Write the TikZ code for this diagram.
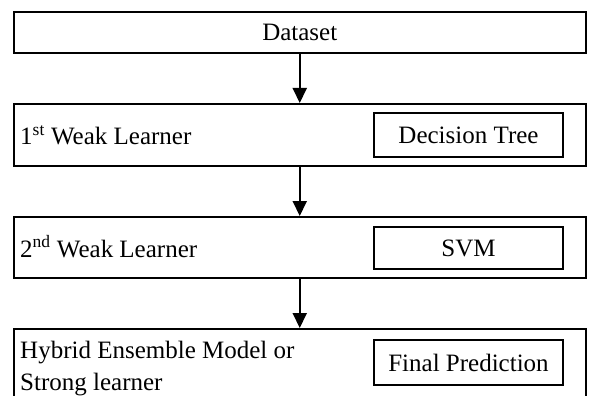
\documentclass[tikz,border=0pt]{standalone}
\usepackage{fontspec}
\setmainfont{Liberation Serif}
\usetikzlibrary{arrows.meta}

\begin{document}
\begin{tikzpicture}[x=1pt,y=1pt,
  font=\fontsize{25}{32}\selectfont,
  outerbox/.style={draw,line width=2pt,minimum width=572pt,inner sep=0pt},
  innerbox/.style={draw,line width=2pt,minimum width=189pt,inner sep=0pt},
  lbl/.style={anchor=base west,inner sep=0pt},
  arr/.style={line width=2pt,-{Triangle[length=15pt,width=14pt]}}]
\useasboundingbox (0,0) rectangle (590,-396);
\clip (0,0) rectangle (590,-396);
\node[outerbox,minimum height=41pt] (data) at (299.75,-32.5) {Dataset};
\node[outerbox,minimum height=62pt] (weak1) at (299.75,-135) {};
\node[outerbox,minimum height=61pt] (weak2) at (299.75,-247.5) {};
\node[outerbox,minimum height=80pt] (strong) at (299.75,-369) {};
\node[innerbox,minimum height=44pt] (tree) at (468.5,-135) {Decision Tree};
\node[innerbox,minimum height=42pt] (svm) at (468.5,-248) {SVM};
\node[innerbox,minimum height=45pt] (final) at (468.5,-362.5) {Final Prediction};
\node[lbl] (weak1lbl) at (20,-145) {1\textsuperscript{st} Weak Learner};
\node[lbl] (weak2lbl) at (20,-257) {2\textsuperscript{nd} Weak Learner};
\node[anchor=north west,align=left,inner sep=0pt] (stronglbl) at (20,-341)
  {Hybrid Ensemble Model or\\Strong learner};
\draw[arr] (data.south) -- (weak1.north);
\draw[arr] (weak1.south) -- (weak2.north);
\draw[arr] (weak2.south) -- (strong.north);
\end{tikzpicture}
\end{document}
